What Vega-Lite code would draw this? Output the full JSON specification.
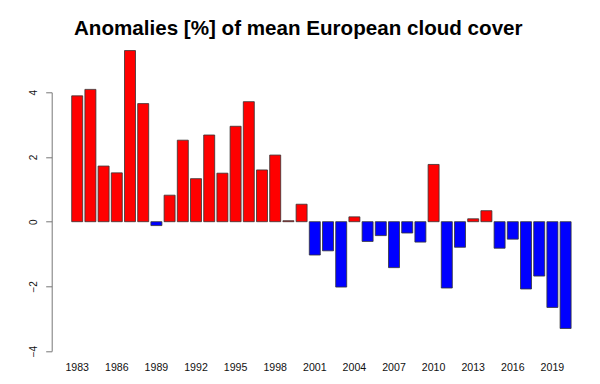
{
  "$schema": "https://vega.github.io/schema/vega-lite/v6.json",
  "autosize": {"type": "none"},
  "padding": {"left": 58.5, "top": 92.3, "right": 15.7, "bottom": 32.9},
  "width": 525.8,
  "height": 258.8,
  "background": "white",
  "config": {"view": {"stroke": null}},
  "title": {
    "text": "Anomalies [%] of mean European cloud cover",
    "frame": "group",
    "anchor": "start",
    "dx": 15.5,
    "offset": -5,
    "baseline": "alphabetic",
    "font": "Liberation Sans",
    "fontSize": 20.6,
    "fontWeight": "bold",
    "color": "#000000"
  },
  "data": {
    "values": [
      {"year": 1983, "anomaly": 3.89},
      {"year": 1984, "anomaly": 4.09},
      {"year": 1985, "anomaly": 1.72},
      {"year": 1986, "anomaly": 1.51},
      {"year": 1987, "anomaly": 5.29},
      {"year": 1988, "anomaly": 3.65},
      {"year": 1989, "anomaly": -0.12},
      {"year": 1990, "anomaly": 0.82},
      {"year": 1991, "anomaly": 2.52},
      {"year": 1992, "anomaly": 1.33},
      {"year": 1993, "anomaly": 2.68},
      {"year": 1994, "anomaly": 1.5},
      {"year": 1995, "anomaly": 2.95},
      {"year": 1996, "anomaly": 3.71},
      {"year": 1997, "anomaly": 1.6},
      {"year": 1998, "anomaly": 2.06},
      {"year": 1999, "anomaly": 0.03},
      {"year": 2000, "anomaly": 0.54},
      {"year": 2001, "anomaly": -1.03},
      {"year": 2002, "anomaly": -0.9},
      {"year": 2003, "anomaly": -2.02},
      {"year": 2004, "anomaly": 0.15},
      {"year": 2005, "anomaly": -0.61},
      {"year": 2006, "anomaly": -0.43},
      {"year": 2007, "anomaly": -1.42},
      {"year": 2008, "anomaly": -0.35},
      {"year": 2009, "anomaly": -0.63},
      {"year": 2010, "anomaly": 1.77},
      {"year": 2011, "anomaly": -2.05},
      {"year": 2012, "anomaly": -0.79},
      {"year": 2013, "anomaly": 0.09},
      {"year": 2014, "anomaly": 0.34},
      {"year": 2015, "anomaly": -0.82},
      {"year": 2016, "anomaly": -0.54},
      {"year": 2017, "anomaly": -2.08},
      {"year": 2018, "anomaly": -1.68},
      {"year": 2019, "anomaly": -2.65},
      {"year": 2020, "anomaly": -3.3}
    ]
  },
  "mark": {"type": "bar", "stroke": "#333333", "strokeWidth": 0.8, "clip": false},
  "encoding": {
    "x": {
      "field": "year",
      "type": "ordinal",
      "scale": {"paddingInner": 0.1667, "paddingOuter": 1},
      "axis": {
        "title": null,
        "values": [1983, 1986, 1989, 1992, 1995, 1998, 2001, 2004, 2007, 2010, 2013, 2016, 2019],
        "domain": false,
        "ticks": false,
        "tickSize": 0,
        "labelAngle": 0,
        "labelAlign": "center",
        "labelBaseline": "alphabetic",
        "labelPadding": 19.6,
        "labelFont": "Liberation Sans",
        "labelFontSize": 10.6,
        "labelColor": "#111111",
        "labelOverlap": false
      }
    },
    "y": {
      "field": "anomaly",
      "type": "quantitative",
      "scale": {"domain": [-4, 4], "nice": false, "zero": true},
      "axis": {
        "title": null,
        "offset": 6.8,
        "values": [-4, -2, 0, 2, 4],
        "grid": false,
        "domainColor": "#777777",
        "tickColor": "#777777",
        "tickSize": 6,
        "labelAngle": -90,
        "labelAlign": "center",
        "labelBaseline": "alphabetic",
        "labelPadding": 9,
        "labelFont": "Liberation Sans",
        "labelFontSize": 10,
        "labelColor": "#111111"
      }
    },
    "color": {
      "condition": {"test": "datum.anomaly >= 0", "value": "#FF0000"},
      "value": "#0000FF"
    }
  }
}
